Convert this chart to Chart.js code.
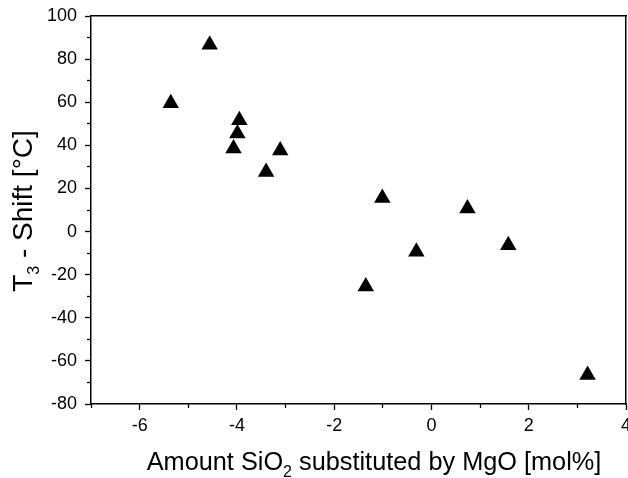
<!DOCTYPE html>
<html>
<head>
<meta charset="utf-8">
<script src="https://cdn.jsdelivr.net/npm/chart.js@4.4.1/dist/chart.umd.min.js"></script>
<style>
  html, body { margin: 0; padding: 0; background: #fff; }
  #wrap { width: 628px; height: 478px; position: relative; }
</style>
</head>
<body>
<div id="wrap"><canvas id="c" width="628" height="478"></canvas></div>
<script>
// ---- data ----
const xValues = [-5.36, -4.56, -3.95, -3.99, -4.07, -3.11, -3.40, -1.01, 0.74, -0.31, 1.58, -1.35, 3.21];
const yValues = [59.5, 86.7, 51.6, 45.5, 38.5, 37.6, 27.6, 15.6, 10.7, -9.4, -6.4, -25.5, -66.5];

const xMajorTicks = [-6, -4, -2, 0, 2, 4];
const xMinorTicks = [-7, -5, -3, -1, 1, 3];
const yMajorTicks = [-80, -60, -40, -20, 0, 20, 40, 60, 80, 100];
const yMinorTicks = [-70, -50, -30, -10, 10, 30, 50, 70, 90];

const xTitleParts = [["Amount SiO", false], ["2", true], [" substituted by MgO [mol%]", false]];
const yTitleParts = [["T", false], ["3", true], [" - Shift [°C]", false]];

const FONT = "'Liberation Sans', Arial, Helvetica, sans-serif";

const points = xValues.map((x, i) => ({ x: x, y: yValues[i] }));

function setTicks(list) {
  return function (scale) { scale.ticks = list.map(v => ({ value: v })); };
}
function fixSize(dim, size) {
  return function (scale) {
    scale[dim] = size;
    scale.paddingLeft = 0; scale.paddingRight = 0;
    scale.paddingTop = 0; scale.paddingBottom = 0;
  };
}

const axisColor = '#000';
const axisWidth = 1.5;
const tickW = 1.3;

const titlePlugin = {
  id: 'subTitles',
  afterDraw(chart) {
    const ctx = chart.ctx;
    function drawParts(parts, size, subSize, subShift) {
      let total = 0;
      parts.forEach(([t, sub]) => {
        ctx.font = (sub ? subSize : size) + 'px ' + FONT;
        total += ctx.measureText(t).width;
      });
      let pos = -total / 2;
      parts.forEach(([t, sub]) => {
        ctx.font = (sub ? subSize : size) + 'px ' + FONT;
        ctx.fillText(t, pos, sub ? subShift : 0);
        pos += ctx.measureText(t).width;
      });
    }
    ctx.save();
    ctx.fillStyle = '#000';
    ctx.textBaseline = 'alphabetic';
    ctx.textAlign = 'left';
    ctx.save();
    ctx.translate(374, 470);
    drawParts(xTitleParts, 25.3, 16, 7);
    ctx.restore();
    ctx.save();
    ctx.translate(32, 211);
    ctx.rotate(-Math.PI / 2);
    drawParts(yTitleParts, 28, 16, 7);
    ctx.restore();
    ctx.restore();
  }
};

const labelFont = { family: FONT, size: 18 };

new Chart(document.getElementById('c'), {
  type: 'scatter',
  data: {
    datasets: [{
      data: points,
      pointStyle: 'triangle',
      pointRadius: 9.5,
      pointHoverRadius: 9.5,
      backgroundColor: '#000',
      borderColor: '#000',
      borderWidth: 0
    }]
  },
  options: {
    responsive: false,
    animation: false,
    events: [],
    layout: { autoPadding: false, padding: { top: 16, right: 2, left: 0, bottom: 0 } },
    plugins: { legend: { display: false }, tooltip: { enabled: false }, title: { display: false } },
    scales: {
      // labels of the x axis
      x: {
        type: 'linear', position: 'bottom', min: -7, max: 4, weight: 2,
        afterBuildTicks: setTicks(xMajorTicks),
        afterFit: fixSize('height', 74),
        border: { display: false },
        grid: { display: false, drawTicks: true, tickLength: 17 },
        ticks: { color: '#000', padding: -6, font: labelFont, maxRotation: 0, autoSkip: false }
      },
      // axis line + major tick marks
      xMajor: {
        type: 'linear', position: 'bottom', min: -7, max: 4, weight: 1,
        afterBuildTicks: setTicks(xMajorTicks),
        afterFit: fixSize('height', 0),
        border: { display: true, color: axisColor, width: axisWidth },
        grid: { drawOnChartArea: false, drawTicks: true, tickLength: 6, tickColor: axisColor, tickWidth: tickW },
        ticks: { display: false }
      },
      xMinor: {
        type: 'linear', position: 'bottom', min: -7, max: 4, weight: 0,
        afterBuildTicks: setTicks(xMinorTicks),
        afterFit: fixSize('height', 0),
        border: { display: false },
        grid: { drawOnChartArea: false, drawTicks: true, tickLength: 4, tickColor: axisColor, tickWidth: tickW },
        ticks: { display: false }
      },
      xTop: {
        type: 'linear', position: 'top', min: -7, max: 4,
        afterFit: fixSize('height', 0),
        border: { display: true, color: axisColor, width: axisWidth },
        grid: { display: false },
        ticks: { display: false }
      },
      y: {
        type: 'linear', position: 'left', min: -80, max: 100, weight: 2,
        afterBuildTicks: setTicks(yMajorTicks),
        afterFit: fixSize('width', 91),
        border: { display: false },
        grid: { display: false, drawTicks: true, tickLength: 14 },
        ticks: { color: '#000', padding: 0, font: labelFont, autoSkip: false }
      },
      yMajor: {
        type: 'linear', position: 'left', min: -80, max: 100, weight: 1,
        afterBuildTicks: setTicks(yMajorTicks),
        afterFit: fixSize('width', 0),
        border: { display: true, color: axisColor, width: axisWidth },
        grid: { drawOnChartArea: false, drawTicks: true, tickLength: 6, tickColor: axisColor, tickWidth: tickW },
        ticks: { display: false }
      },
      yMinor: {
        type: 'linear', position: 'left', min: -80, max: 100, weight: 0,
        afterBuildTicks: setTicks(yMinorTicks),
        afterFit: fixSize('width', 0),
        border: { display: false },
        grid: { drawOnChartArea: false, drawTicks: true, tickLength: 4, tickColor: axisColor, tickWidth: tickW },
        ticks: { display: false }
      },
      yRight: {
        type: 'linear', position: 'right', min: -80, max: 100,
        afterFit: fixSize('width', 0),
        border: { display: true, color: axisColor, width: axisWidth },
        grid: { display: false },
        ticks: { display: false }
      }
    }
  },
  plugins: [titlePlugin]
});
</script>
</body>
</html>
